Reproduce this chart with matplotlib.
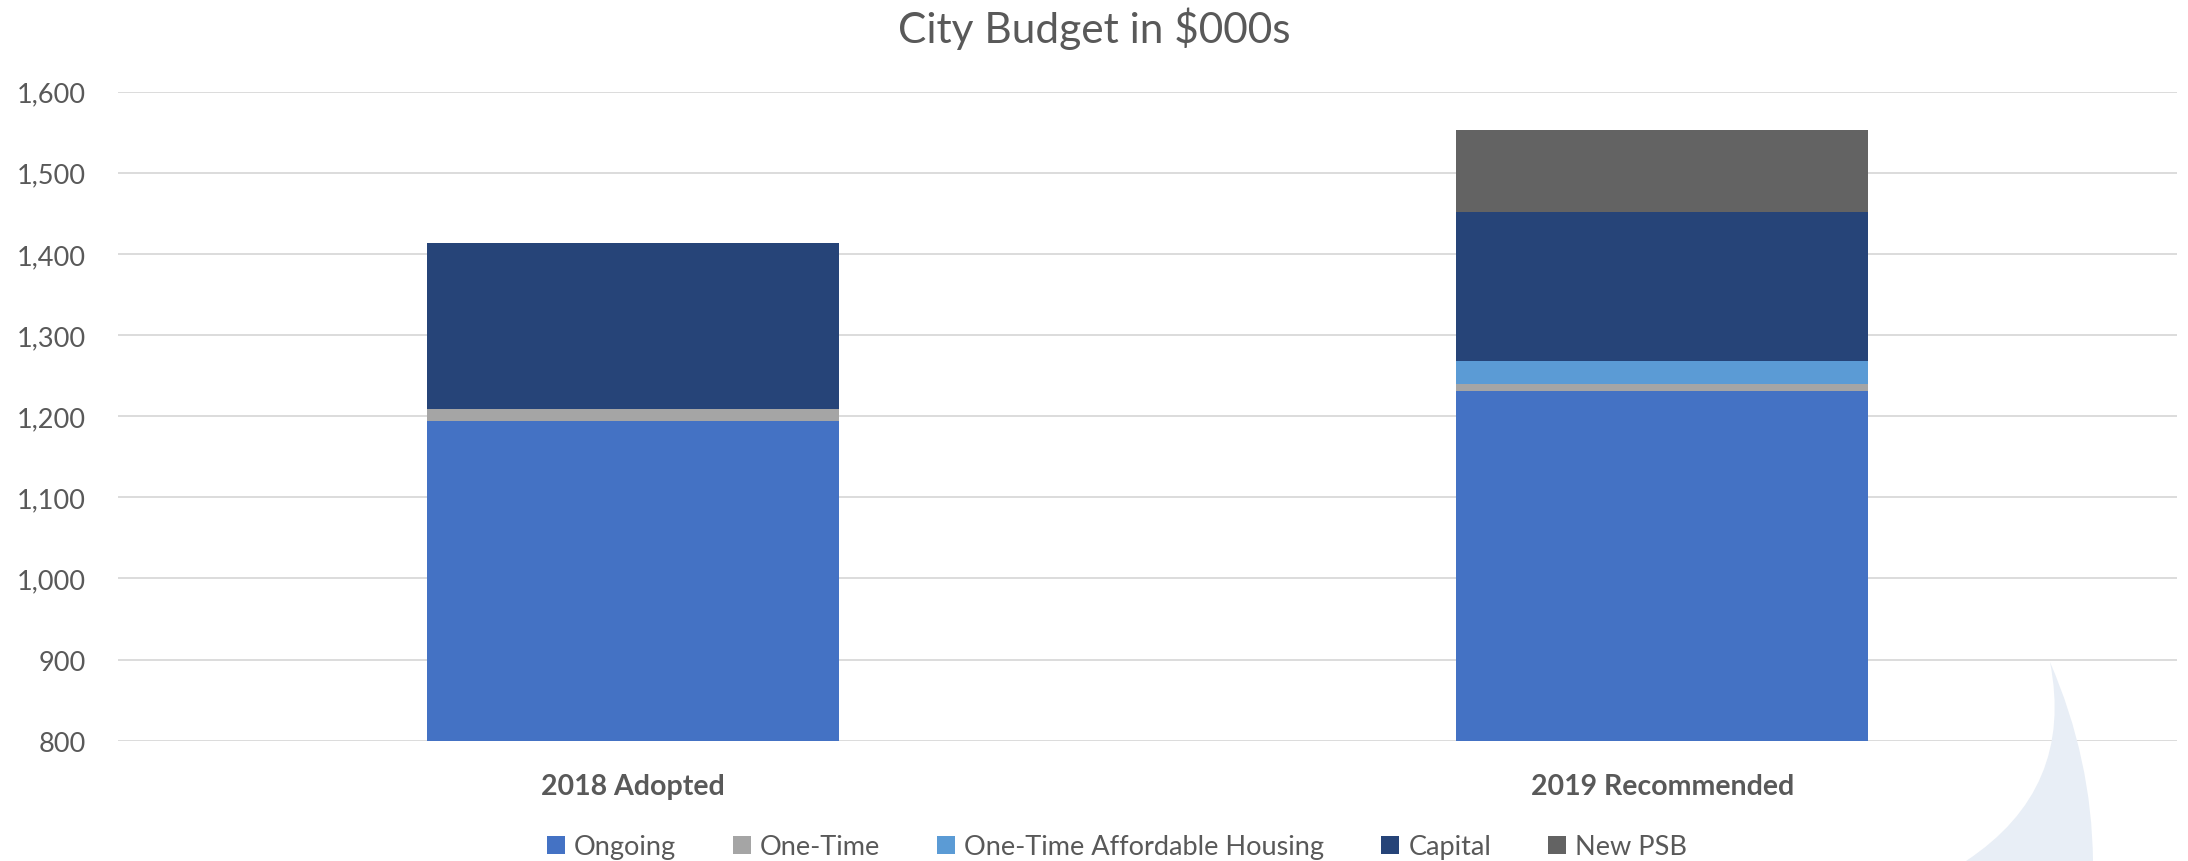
import matplotlib
matplotlib.use("Agg")
import matplotlib.pyplot as plt
from matplotlib.path import Path
from matplotlib.patches import PathPatch, Patch
from matplotlib.ticker import FuncFormatter, MultipleLocator
import numpy as np

categories = ["2018 Adopted", "2019 Recommended"]
ongoing = [1194, 1231]
one_time = [15, 9]
affordable = [0, 28]
capital = [204, 184]
new_psb = [0, 100]

series_names = ["Ongoing", "One-Time", "One-Time Affordable Housing", "Capital", "New PSB"]
series_values = [ongoing, one_time, affordable, capital, new_psb]
colors = ["#4472C4", "#A5A5A5", "#5B9BD5", "#264478", "#636363"]

plt.rcParams['font.family'] = ['Lato', 'DejaVu Sans']
text_color = "#595959"

W, H = 2188, 862
fig = plt.figure(figsize=(W / 100, H / 100), dpi=100)

# decorative sail watermark (background)
def fx(x):
    return x / W
def fy(y):
    return 1 - y / H
verts = [
    (fx(2050), fy(663)),
    (fx(2092), fy(760)), (fx(2093), fy(862)),
    (fx(1966), fy(862)),
    (fx(2075), fy(790)), (fx(2050), fy(663)),
]
codes = [Path.MOVETO, Path.CURVE3, Path.CURVE3, Path.LINETO, Path.CURVE3, Path.CURVE3]
fig.patches.append(PathPatch(Path(verts, codes), transform=fig.transFigure,
                             facecolor="#E8EEF6", edgecolor="none", zorder=0))

ax = fig.add_axes([118 / W, 1 - 741.8 / H, (2177 - 118) / W, (741.8 - 92.5) / H])
ax.patch.set_alpha(0)

x = np.arange(len(categories))
bottom = np.zeros(len(categories))
for name, vals, c in zip(series_names, series_values, colors):
    vals = np.array(vals, dtype=float)
    ax.bar(x, vals, width=0.4, bottom=bottom, color=c, label=name, zorder=3)
    bottom += vals

ax.set_xlim(-0.5, 1.5)
ax.set_ylim(800, 1600)
ax.yaxis.set_major_locator(MultipleLocator(100))
ax.yaxis.set_major_formatter(FuncFormatter(lambda v, p: f"{int(v):,}"))
ax.grid(axis="y", color="#D9D9D9", linewidth=1.3, zorder=0)
ax.set_axisbelow(True)
for s in ax.spines.values():
    s.set_visible(False)
ax.tick_params(axis="y", length=0, pad=23, labelsize=19.5, labelcolor=text_color)
ax.tick_params(axis="x", length=0, pad=23, labelsize=20.5, labelcolor=text_color)
ax.set_xticks(x)
ax.set_xticklabels(categories, fontweight="bold")

fig.text(1094 / W, 1 - 29 / H, "City Budget in $000s", ha="center", va="center",
         fontsize=30.5, color=text_color)

handles = [Patch(facecolor=c, edgecolor="none") for c in colors]
leg = fig.legend(handles, series_names, loc="center", bbox_to_anchor=(1117 / W, 1 - 848 / H),
                 ncol=5, frameon=False, fontsize=19.5, handlelength=0.65, handleheight=0.65,
                 handletextpad=0.35, columnspacing=2.1, labelcolor=text_color)

fig.savefig("out.png", dpi=100)
